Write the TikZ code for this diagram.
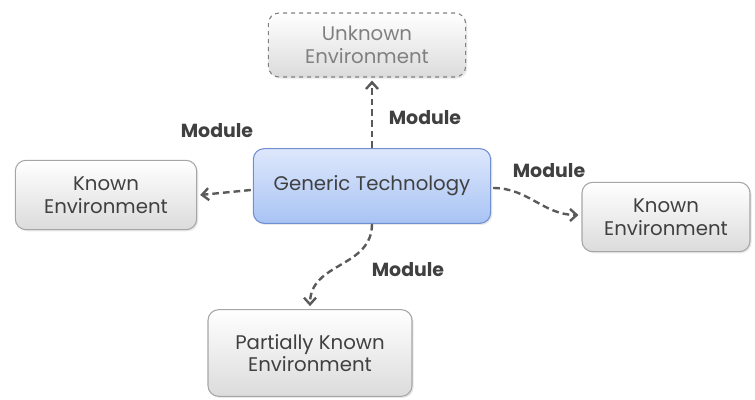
\documentclass[tikz,border=0pt]{standalone}
\usepackage{fontspec}
\setmainfont{Poppins}
\usepackage{tikz}
\usetikzlibrary{positioning,arrows.meta,calc,shadows}

\definecolor{txtgray}{HTML}{404040}
\definecolor{boxline}{HTML}{A6A6A6}
\definecolor{genline}{HTML}{6F8FD0}
\definecolor{arrowgray}{HTML}{5A5A5A}

\tikzset{
  envbox/.style={draw=boxline, line width=0.8pt, rounded corners=8pt,
    top color=white, bottom color=black!14, text=txtgray,
    align=center, font=\fontsize{14.8}{17}\selectfont,
    drop shadow={opacity=0.18, shadow xshift=1.2pt, shadow yshift=-1.2pt}},
  genbox/.style={envbox, draw=genline, top color={rgb,255:red,222;green,232;blue,252}, bottom color={rgb,255:red,168;green,195;blue,244}},
  unkbox/.style={envbox, dashed, draw=black!50, text=black!50},
  modarrow/.style={color=arrowgray, line width=1.8pt, dash pattern=on 5pt off 3pt,
    -{Straight Barb[length=5pt,width=9pt]}},
  modlabel/.style={text=txtgray, font=\bfseries\fontsize{14.2}{16}\selectfont}
}

\begin{document}
\begin{tikzpicture}[x=0.75pt,y=-0.75pt]

  \useasboundingbox (0,0) rectangle (755,399);

  \node[genbox, minimum width=178pt, minimum height=56pt] (gen) at (372,186) {Generic Technology};
  \node[unkbox, minimum width=148pt, minimum height=48pt] (unk) at (367,45) {Unknown\\Environment};
  \node[envbox, minimum width=136pt, minimum height=52pt] (kleft) at (106,195) {Known\\Environment};
  \node[envbox, minimum width=126pt, minimum height=52pt] (kright) at (666,217) {Known\\Environment};
  \node[envbox, minimum width=153pt, minimum height=65pt] (part) at (310,353) {Partially Known\\Environment};

  \node[modlabel] (m1) at (217,131) {Module};
  \node[modlabel] (m2) at (425,118) {Module};
  \node[modlabel] (m3) at (549,171) {Module};
  \node[modlabel] (m4) at (408,270) {Module};

  \path[modarrow] (gen.north) edge ($(unk.south -| gen.north)+(0,3)$);
  \path[modarrow] ($(gen.west)+(-2,4)$) edge ($(kleft.east)+(3,0)$);
  \path[modarrow] ($(gen.east)+(2,2)$) edge[out=0, in=180] ($(kright.west)+(-3,-2)$);
  \path[modarrow] (gen.south) edge[out=-90, in=90, looseness=1.1] ($(part.north)+(0,-3)$);

\end{tikzpicture}
\end{document}
